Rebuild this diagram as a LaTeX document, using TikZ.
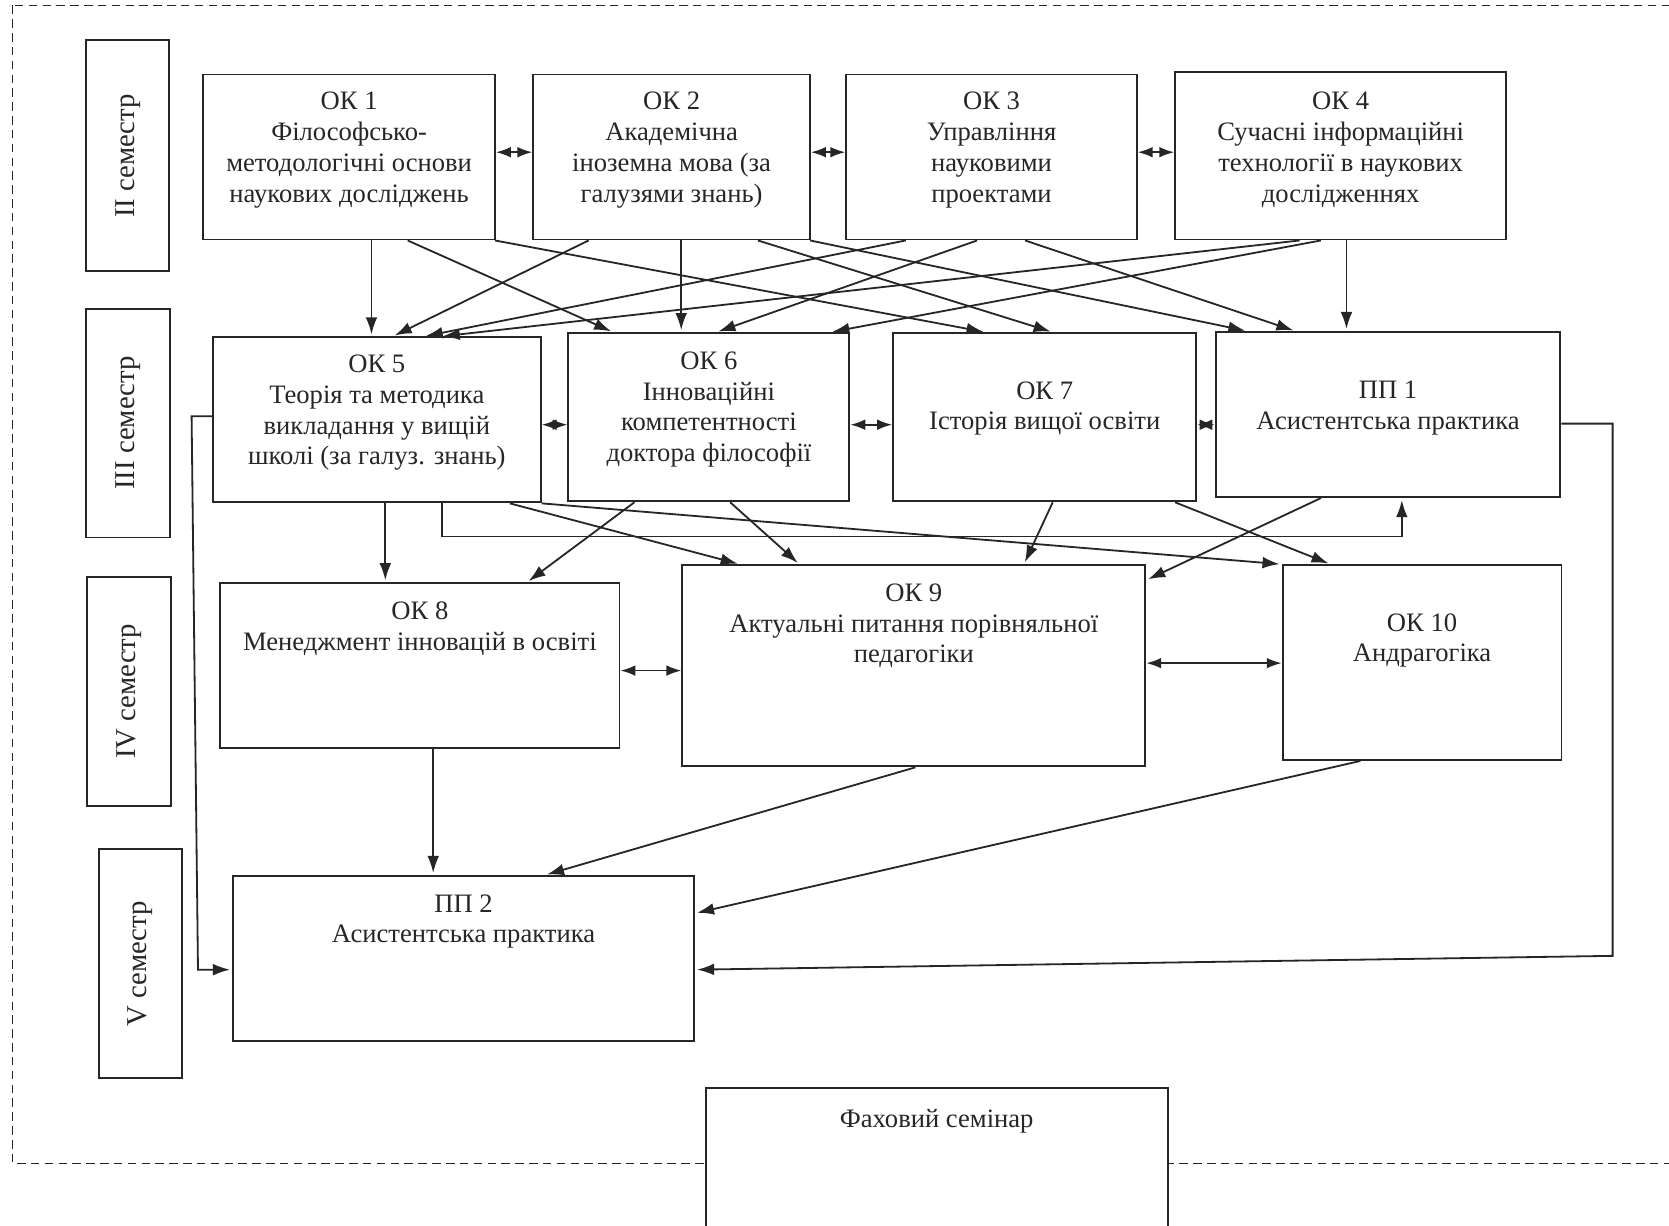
\documentclass[tikz,border=0pt]{standalone}
\usepackage{fontspec}
\setmainfont{Liberation Serif}
\usetikzlibrary{fit,positioning,arrows.meta,calc}
\colorlet{ink}{black!85}
\begin{document}
\begin{tikzpicture}[x=1pt,y=-1pt,
  box/.style={draw=ink, line width=1.8pt, inner sep=0pt},
  txt/.style={font=\fontsize{25}{29}\selectfont, align=center, inner sep=0pt, text=ink},
  semtxt/.style={font=\fontsize{27}{31}\selectfont, inner sep=0pt, text=ink, rotate=90},
  arr/.style={draw=ink, line width=1.7pt, -{Latex[length=16pt,width=11pt]}, shorten >=2pt},
  biarr/.style={draw=ink, line width=1.7pt, {Latex[length=14pt,width=10pt]}-{Latex[length=14pt,width=10pt]}},
  border/.style={draw=ink, line width=1.3pt, dash pattern=on 8pt off 5pt}]
\clip (0,0) rectangle (1568,1151);
\fill[white] (0,0) rectangle (1568,1151);
% outer dashed frame
\draw[border] (12,5) rectangle (1620,1093);
% semester labels
\node[box, fit={(81,38)(159,255)}] (s2) {};
\node[semtxt] (s2t) at (s2.center) {II семестр};
\node[box, fit={(81,290)(160,505)}] (s3) {};
\node[semtxt] (s3t) at (s3.center) {III семестр};
\node[box, fit={(82,542)(161,757)}] (s4) {};
\node[semtxt] (s4t) at (s4.center) {IV семестр};
\node[box, fit={(93,798)(171,1013)}] (s5) {};
\node[semtxt] (s5t) at (s5.center) {V семестр};
% row 1
\node[box, fit={(191,70)(465,225)}] (ok1) {};
\node[txt, below=17pt of ok1.north] (ok1t) {ОК 1\\Філософсько-\\методологічні основи\\наукових досліджень};
\node[box, fit={(501,70)(761,225)}] (ok2) {};
\node[txt, below=17pt of ok2.north] (ok2t) {ОК 2\\Академічна\\іноземна мова (за\\галузями знань)};
\node[box, fit={(795,70)(1068,225)}] (ok3) {};
\node[txt, below=17pt of ok3.north] (ok3t) {ОК 3\\Управління\\науковими\\проектами};
\node[box, fit={(1104,68)(1415,225)}] (ok4) {};
\node[txt, below=19pt of ok4.north] (ok4t) {ОК 4\\Сучасні інформаційні\\технології в наукових\\дослідженнях};
% row 2
\node[box, fit={(200,317)(508,472)}] (ok5) {};
\node[txt, below=17pt of ok5.north] (ok5t) {ОК 5\\Теорія та методика\\викладання у вищій\\школі (за галуз. знань)};
\node[box, fit={(534,313)(798,471)}] (ok6) {};
\node[txt, below=18pt of ok6.north] (ok6t) {ОК 6\\Інноваційні\\компетентності\\доктора філософії};
\node[box, fit={(839,313)(1124,471)}] (ok7) {};
\node[txt, below=46pt of ok7.north] (ok7t) {ОК 7\\Історія вищої освіти};
\node[box, fit={(1142,312)(1466,467)}] (pp1) {};
\node[txt, below=47pt of pp1.north] (pp1t) {ПП 1\\Асистентська практика};
% row 3
\node[box, fit={(207,548)(582,703)}] (ok8) {};
\node[txt, below=18pt of ok8.north] (ok8t) {ОК 8\\Менеджмент інновацій в освіті};
\node[box, fit={(641,531)(1076,720)}] (ok9) {};
\node[txt, below=18pt of ok9.north] (ok9t) {ОК 9\\Актуальні питання порівняльної\\педагогіки};
\node[box, fit={(1205,531)(1467,714)}] (ok10) {};
\node[txt, below=46pt of ok10.north] (ok10t) {ОК 10\\Андрагогіка};
% row 4
\node[box, fit={(219,823)(652,978)}] (pp2) {};
\node[txt, below=18pt of pp2.north] (pp2t) {ПП 2\\Асистентська практика};
% seminar
\node[box, fill=white, fit={(663,1022)(1097,1175)}] (sem) {};
\node[txt, below=21pt of sem.north] (semt) {Фаховий семінар};
% bidirectional arrows
\draw[biarr] (ok1.east |- 0,143) -- (ok2.west |- 0,143);
\draw[biarr] (ok2.east |- 0,143) -- (ok3.west |- 0,143);
\draw[biarr] (ok3.east |- 0,143) -- (ok4.west |- 0,143);
\draw[biarr] (ok5.east |- 0,399) -- (ok6.west |- 0,399);
\draw[biarr] (ok6.east |- 0,399) -- (ok7.west |- 0,399);
\draw[biarr] (ok7.east |- 0,399) -- (pp1.west |- 0,399);
\draw[biarr] (ok8.east |- 0,630) -- (ok9.west |- 0,630);
\draw[biarr] (ok9.east |- 0,623) -- (ok10.west |- 0,623);
% row 1 -> row 2
\draw[arr] (349,0 |- ok1.south) -- (349,0 |- ok5.north);
\draw[arr] (383,0 |- ok1.south) -- (576,0 |- ok6.north);
\draw[arr] (465,0 |- ok1.south) -- (926,0 |- ok7.north);
\draw[arr] (553,0 |- ok2.south) -- (369,0 |- ok5.north);
\draw[arr] (640,0 |- ok2.south) -- (640,0 |- ok6.north);
\draw[arr] (712,0 |- ok2.south) -- (989,0 |- ok7.north);
\draw[arr] (761,0 |- ok2.south) -- (1172,0 |- pp1.north);
\draw[arr] (851,0 |- ok3.south) -- (398,0 |- ok5.north);
\draw[arr] (918,0 |- ok3.south) -- (673,0 |- ok6.north);
\draw[arr] (963,0 |- ok3.south) -- (1217,0 |- pp1.north);
\draw[arr] (1221,0 |- ok4.south) -- (414,0 |- ok5.north);
\draw[arr] (1241,0 |- ok4.south) -- (780,0 |- ok6.north);
\draw[arr] (1265,0 |- ok4.south) -- (1265,0 |- pp1.north);
% row 2 -> row 3
\draw[arr] (362,0 |- ok5.south) -- (362,0 |- ok8.north);
\draw[arr] (415,0 |- ok5.south) -- (415,504) -- (1317,504) -- (1317,0 |- pp1.south);
\draw[arr] (479,0 |- ok5.south) -- (695,0 |- ok9.north);
\draw[arr] (ok5.south east) -- (ok10.north west);
\draw[arr] (596,0 |- ok6.south) -- (495,0 |- ok8.north);
\draw[arr] (686,0 |- ok6.south) -- (751,0 |- ok9.north);
\draw[arr] (989,0 |- ok7.south) -- (962,0 |- ok9.north);
\draw[arr] (1104,0 |- ok7.south) -- (1250,0 |- ok10.north);
\draw[arr] (1241,0 |- pp1.south) -- (ok9.east |- 0,545);
% to PP2
\draw[arr] (407,0 |- ok8.south) -- (407,0 |- pp2.north);
\draw[arr] (860,0 |- ok9.south) -- (512,0 |- pp2.north);
\draw[arr] (1278,0 |- ok10.south) -- (pp2.east |- 0,858);
\draw[arr] (pp1.east |- 0,398) -- (1515,398) -- (1515,898) -- (pp2.east |- 0,911);
\draw[arr] (ok5.west |- 0,391) -- (180,391) -- (186,911) -- (pp2.west |- 0,911);
\end{tikzpicture}
\end{document}
